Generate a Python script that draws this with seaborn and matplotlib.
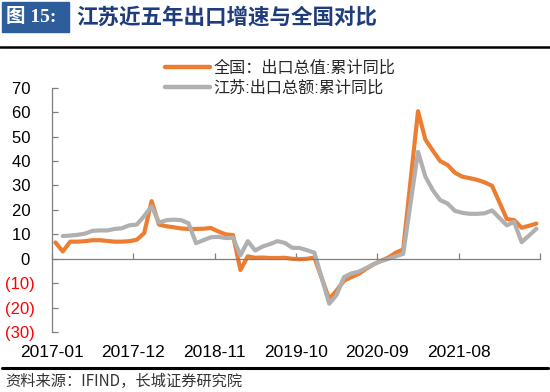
import numpy as np
import pandas as pd
import seaborn as sns
import matplotlib.pyplot as plt
from matplotlib.patches import Rectangle
from matplotlib.lines import Line2D

# monthly cumulative yoy export growth, 2017-01 .. 2022-06 (nan = not published)
months = pd.period_range("2017-01", "2022-06", freq="M").strftime("%Y-%m")
national = [6.7, 3.0, 7.0, 7.0, 7.2, 7.6, 7.6, 7.3, 7.0, 7.0, 7.2, 7.8,
            10.5, 23.6, 14.0, 13.3, 12.9, 12.4, 12.2, 12.2, 12.3, 12.6, 11.2, 10.0,
            9.7, -4.6, 1.0, 0.4, 0.5, 0.3, 0.3, 0.4, 0.0, -0.2, 0.0, 0.5,
            np.nan, -16.5, -13.0, -9.0, -7.5, -6.2, -4.1, -2.3, -0.8, 0.5, 2.5, 3.8,
            np.nan, 60.4, 48.8, 44.3, 40.0, 38.4, 35.2, 33.6, 33.0, 32.3, 31.3, 29.9,
            np.nan, 16.3, 15.8, 12.7, 13.5, 14.4]
jiangsu = [np.nan, 9.3, 9.5, 9.8, 10.3, 11.4, 11.6, 11.6, 12.2, 12.5, 13.7, 14.0,
           17.5, 21.5, 14.8, 15.8, 16.0, 15.8, 14.5, 6.4, 7.6, 8.8, 9.0, 8.5,
           8.6, 1.4, 7.2, 3.4, 5.0, 6.0, 7.2, 6.5, 4.5, 4.4, 3.5, 2.5,
           np.nan, -18.4, -14.8, -7.5, -6.0, -5.3, -3.8, -2.2, -1.0, 0.0, 1.0, 2.0,
           np.nan, 43.8, 33.6, 28.1, 24.0, 22.6, 19.6, 18.8, 18.4, 18.4, 18.6, 19.8,
           np.nan, 13.7, 15.1, 6.8, 9.5, 12.3]
label_nat = "全国：出口总值:累计同比"
label_js = "江苏:出口总额:累计同比"
tick_labels = ["2017-01", "2017-12", "2018-11", "2019-10", "2020-09", "2021-08", ""]
yticks = [70, 60, 50, 40, 30, 20, 10, 0, -10, -20, -30]

orange = "#ED7D31"
gray = "#B0B0B0"

sns.set_theme(style="white")
plt.rcParams["font.family"] = ["Liberation Sans", "Noto Sans CJK SC", "DejaVu Sans"]

df = pd.DataFrame({"idx": np.arange(len(months)), label_nat: national, label_js: jiangsu})
long_df = df.melt("idx").dropna()

fig = plt.figure(figsize=(5.5, 3.92), dpi=100)
ax = fig.add_axes([0.094, 0.153, 0.888, 0.623])

sns.lineplot(data=long_df, x="idx", y="value", hue="variable", palette=[orange, gray],
             linewidth=3, estimator=None, legend=False, ax=ax,
             solid_joinstyle="round", solid_capstyle="round")

ax.set_xlim(-0.5, len(months) - 0.5)
ax.set_ylim(-30, 70)
ax.set_xlabel("")
ax.set_ylabel("")

# axes: y spine on the left, x spine at zero
for s in ["top", "right"]:
    ax.spines[s].set_visible(False)
ax.spines["bottom"].set_position(("data", 0))
for s in ["left", "bottom"]:
    ax.spines[s].set_color("#7F7F7F")
    ax.spines[s].set_linewidth(0.9)

ax.set_xticks(np.arange(-0.5, len(months), 11))
ax.set_xticklabels(tick_labels)
ax.set_yticks(yticks)
ax.set_yticklabels([f"{v} " if v >= 0 else f"({-v})" for v in yticks])
for t, v in zip(ax.get_yticklabels(), yticks):
    t.set_color("black" if v >= 0 else "#FF0000")

ax.tick_params(axis="x", direction="in", length=4, width=0.9, color="#7F7F7F",
               pad=62, labelsize=12.5, labelcolor="black", bottom=True)
ax.tick_params(axis="y", direction="in", length=4, width=0.9, color="#7F7F7F",
               pad=12, labelsize=12, left=True)

handles = [Line2D([], [], color=orange, lw=3.2), Line2D([], [], color=gray, lw=3.2)]
fig.legend(handles, [label_nat, label_js], loc="upper left",
           bbox_to_anchor=(165 / 550, 1 - 60 / 392), frameon=False,
           fontsize=11.6, handlelength=2.8, handletextpad=0.2,
           labelspacing=0.3, borderpad=0, borderaxespad=0)

# header
fig.patches.append(Rectangle((2 / 550, 1 - 32 / 392), 67 / 550, 30 / 392,
                             transform=fig.transFigure, color="#2E5D9C"))
fig.text(6 / 550, 1 - 17 / 392, "图 15:", color="white", fontsize=14,
         fontweight="bold", va="center", ha="left",
         family=["Liberation Serif", "Noto Sans CJK SC"])
fig.text(76 / 550, 1 - 17 / 392, "江苏近五年出口增速与全国对比", color="#1F3C7C",
         fontsize=15.5, fontweight="bold", va="center", ha="left",
         family=["Noto Sans CJK SC"])
fig.add_artist(Line2D([0, 1], [1 - 47 / 392] * 2, color="black", lw=1.8,
                      transform=fig.transFigure))

# footer
fig.add_artist(Line2D([0.004, 0.996], [1 - 368 / 392] * 2, color="black", lw=2.2,
                      transform=fig.transFigure))
fig.text(5 / 550, 1 - 381 / 392, "资料来源：IFIND，长城证券研究院", color="#333333",
         fontsize=11, va="center", ha="left", style="italic",
         family=["Noto Sans CJK SC"])

plt.savefig("out.png", dpi=100)
